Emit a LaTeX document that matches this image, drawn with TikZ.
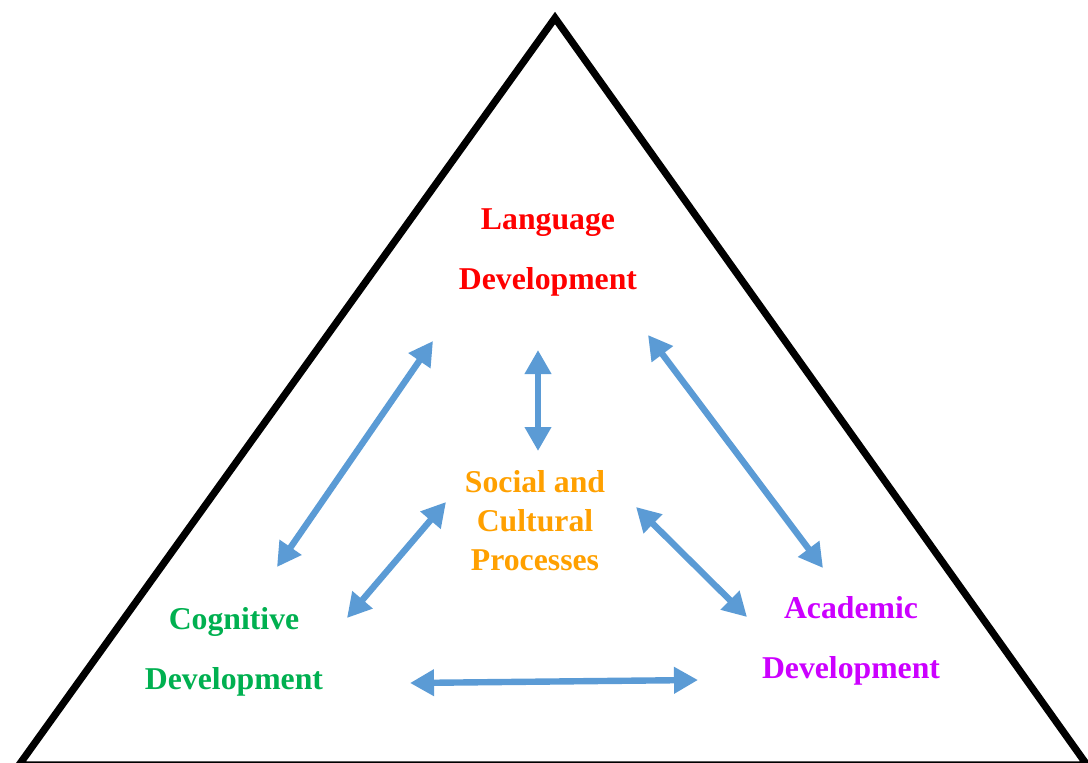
\documentclass[tikz,border=0pt]{standalone}
\usepackage{fontspec}
\setmainfont{Liberation Serif}
\usepackage{xcolor}
\definecolor{lred}{RGB}{255,0,0}
\definecolor{sorange}{RGB}{255,160,0}
\definecolor{cgreen}{RGB}{0,176,80}
\definecolor{apurple}{RGB}{204,0,255}
\definecolor{arrblue}{RGB}{91,155,213}
\usetikzlibrary{arrows.meta,positioning}
\tikzset{
    dev/.style={
    align=center,inner sep=0pt,font=\bfseries\fontsize{23.8}{45}\selectfont
    },
    soc/.style={
    align=center,inner sep=0pt,font=\bfseries\fontsize{23.8}{29.3}\selectfont
    },
    link/.style={
    draw=arrblue,line width=4.8pt,{Triangle[length=18pt,width=19pt]}-{Triangle[length=18pt,width=19pt]}
    },
    frame/.style={
    draw=black,line width=5.4pt,line join=miter
    }
}

\begin{document}
\begin{tikzpicture}[x=0.75pt,y=-0.75pt]
    \useasboundingbox (0,0) rectangle (1088,763);
    \draw[frame] (555,18) -- (1087,765) -- (19,765) -- cycle;

    \node[dev,text=lred] (lang) at (548,252) {Language\\Development};
    \node[soc,text=sorange] (soc) at (535,521) {Social and\\Cultural\\Processes};
    \node[dev,text=cgreen] (cog) at (234,652) {Cognitive\\Development};
    \node[dev,text=apurple] (acad) at (851,641) {Academic\\Development};

    % arrow ends
    \coordinate (cl1) at (277,567);
    \coordinate (cl2) at (433,341);
    \coordinate (ls1) at (538,350);
    \coordinate (ls2) at (538,451);
    \coordinate (la1) at (648,335);
    \coordinate (la2) at (823,568);
    \coordinate (cs1) at (347,618);
    \coordinate (cs2) at (446,502);
    \coordinate (sa1) at (636,507);
    \coordinate (sa2) at (747,617);
    \coordinate (ca1) at (410,683);
    \coordinate (ca2) at (698,680);

    \begin{scope}[every path/.style=link]
      \path (cl1) -- (cl2);
      \path (ls1) -- (ls2);
      \path (la1) -- (la2);
      \path (cs1) -- (cs2);
      \path (sa1) -- (sa2);
      \path (ca1) -- (ca2);
    \end{scope}
\end{tikzpicture}
\end{document}
